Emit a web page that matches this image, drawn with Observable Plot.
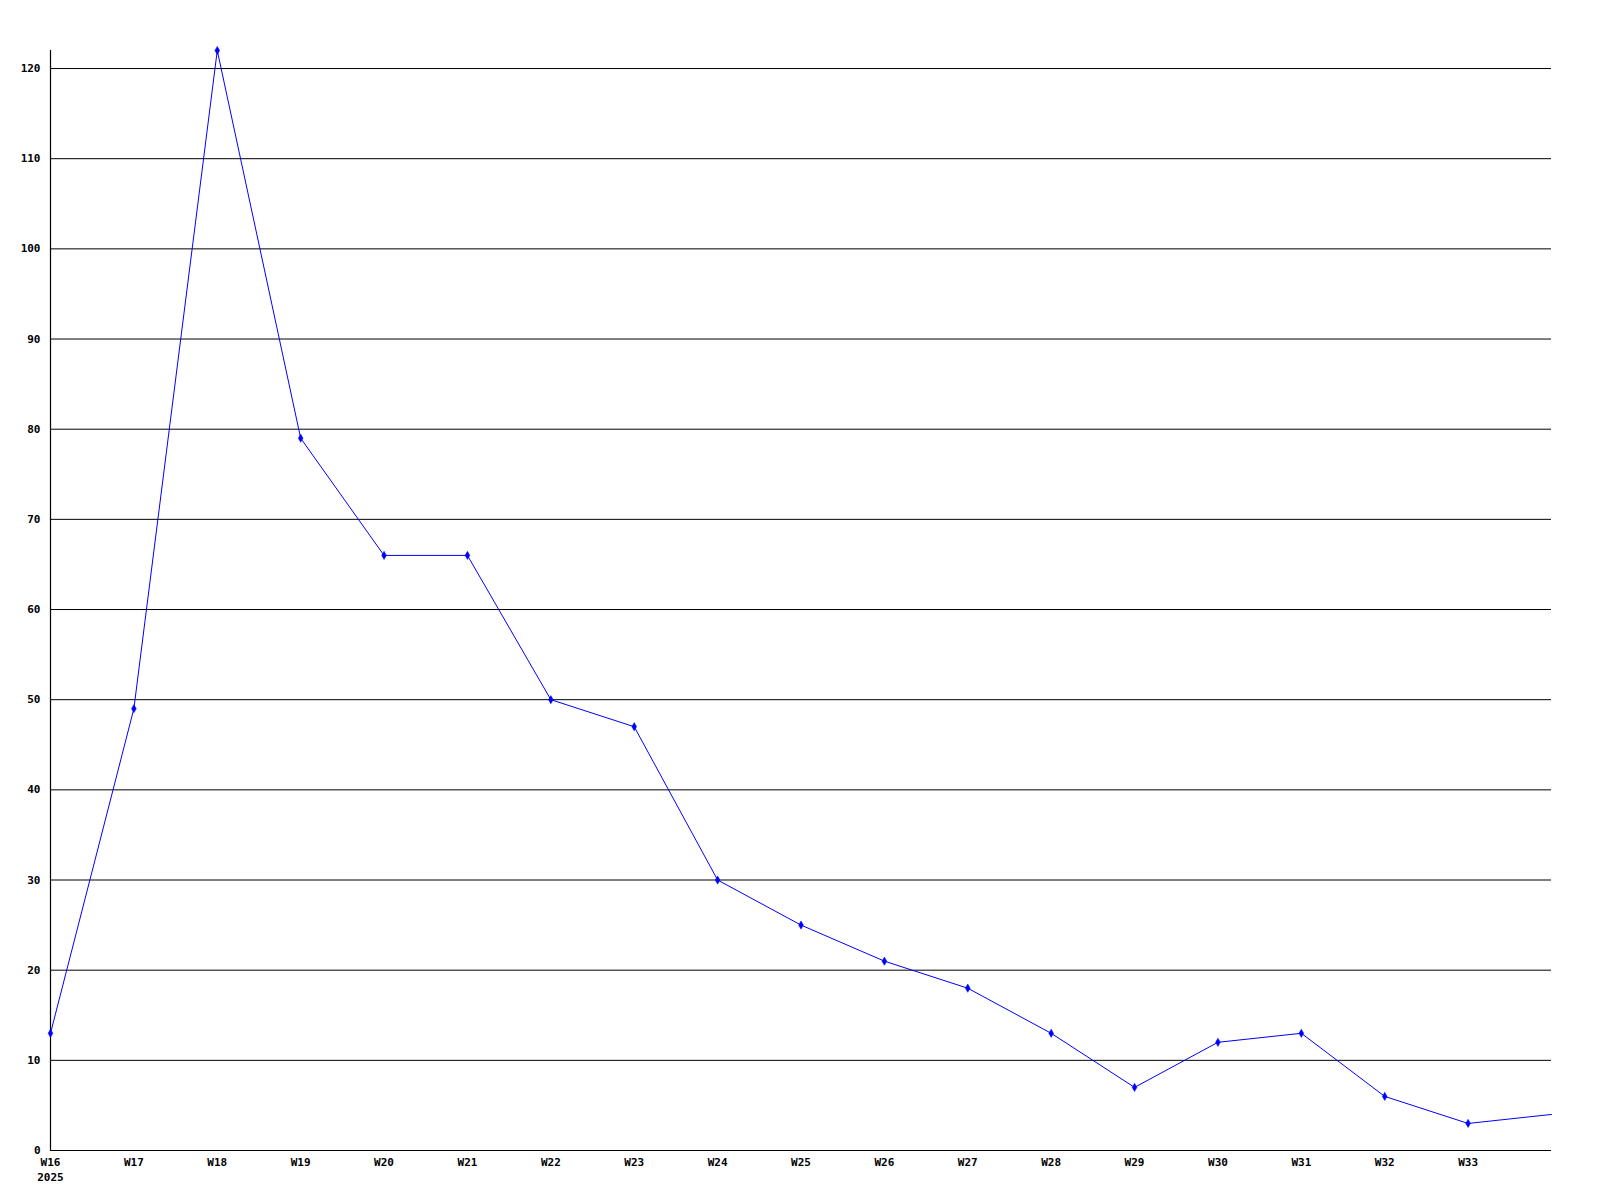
<!DOCTYPE html>
<html>
<head>
<meta charset="utf-8">
<script src="https://cdn.jsdelivr.net/npm/d3@7"></script>
<script src="https://cdn.jsdelivr.net/npm/@observablehq/plot@0.6"></script>
<style>
  html, body { margin: 0; padding: 0; background: #fff; }
  #chart svg { display: block; }
</style>
</head>
<body>
<div id="chart"></div>
<script>
const weeks = ["W16","W17","W18","W19","W20","W21","W22","W23","W24","W25","W26","W27","W28","W29","W30","W31","W32","W33","W34"];
const values = [13, 49, 122, 79, 66, 66, 50, 47, 30, 25, 21, 18, 13, 7, 12, 13, 6, 3, 4];
const yearLabel = "2025";
const yTicks = [0,10,20,30,40,50,60,70,80,90,100,110,120];
const xTickCount = 18; // W16..W33 labelled

const data = weeks.map((w, i) => ({i, week: w, value: values[i]}));
const xTicks = d3.range(xTickCount);

const chart = Plot.plot({
  width: 1600,
  height: 1200,
  marginLeft: 50,
  marginRight: 49,
  marginTop: 50,
  marginBottom: 50,
  style: {fontFamily: "'DejaVu Sans Mono', monospace", fontSize: "11px", fontWeight: "bold", color: "#000", background: "#fff"},
  x: {domain: [0, weeks.length - 1], axis: null},
  y: {domain: [0, 122], axis: null},
  marks: [
    Plot.ruleY(yTicks.filter(t => t > 0), {stroke: "#000", strokeWidth: 1}),
    Plot.ruleY([0], {stroke: "#000", strokeWidth: 1.2}),
    Plot.ruleX([0], {stroke: "#000", strokeWidth: 1.2}),
    Plot.axisY({ticks: yTicks, tickSize: 0, tickPadding: 10, label: null, fontWeight: "bold", fontSize: 11}),
    Plot.axisX({ticks: xTicks, tickSize: 0, tickPadding: 5, label: null, fontWeight: "bold", fontSize: 11, lineHeight: 1.35,
      tickFormat: i => i === 0 ? weeks[i] + "\n" + yearLabel : weeks[i]}),
    Plot.line(data, {x: "i", y: "value", stroke: "#0000ff", strokeWidth: 1}),
    Plot.dot(data.slice(0, -1), {x: "i", y: "value", symbol: "diamond", r: 2.5, fill: "#0000ff", stroke: "#0000ff", strokeWidth: 0.5})
  ]
});
document.getElementById("chart").append(chart);
</script>
</body>
</html>
